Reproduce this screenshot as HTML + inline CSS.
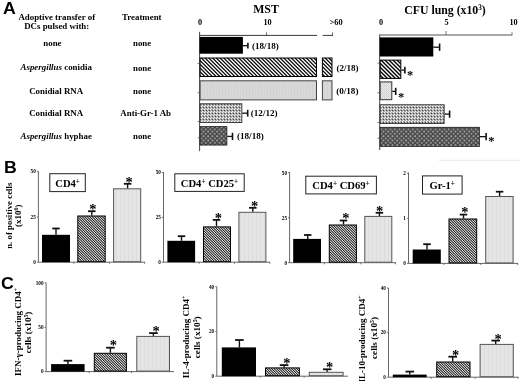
<!DOCTYPE html><html><head><meta charset="utf-8"><style>html,body{margin:0;padding:0;background:#fff;width:520px;height:381px;overflow:hidden}svg{display:block;filter:grayscale(1)}</style></head><body>
<svg width="520" height="381" viewBox="0 0 520 381" style="font-family:&quot;Liberation Serif&quot;,serif;font-weight:bold">
<defs>
<pattern id="hatch" width="15" height="15" patternUnits="userSpaceOnUse"><rect width="15" height="15" fill="rgb(255,255,255)"/><rect x="0" y="0" width="1" height="1" fill="rgb(112,112,112)"/><rect x="1" y="0" width="1" height="1" fill="rgb(12,12,12)"/><rect x="2" y="0" width="1" height="1" fill="rgb(195,195,195)"/><rect x="3" y="0" width="1" height="1" fill="rgb(243,243,243)"/><rect x="4" y="0" width="1" height="1" fill="rgb(60,60,60)"/><rect x="5" y="0" width="1" height="1" fill="rgb(40,40,40)"/><rect x="6" y="0" width="1" height="1" fill="rgb(231,231,231)"/><rect x="7" y="0" width="1" height="1" fill="rgb(215,215,215)"/><rect x="8" y="0" width="1" height="1" fill="rgb(24,24,24)"/><rect x="9" y="0" width="1" height="1" fill="rgb(84,84,84)"/><rect x="10" y="0" width="1" height="1" fill="rgb(251,251,251)"/><rect x="11" y="0" width="1" height="1" fill="rgb(171,171,171)"/><rect x="12" y="0" width="1" height="1" fill="rgb(4,4,4)"/><rect x="13" y="0" width="1" height="1" fill="rgb(143,143,143)"/><rect x="1" y="1" width="1" height="1" fill="rgb(112,112,112)"/><rect x="2" y="1" width="1" height="1" fill="rgb(12,12,12)"/><rect x="3" y="1" width="1" height="1" fill="rgb(195,195,195)"/><rect x="4" y="1" width="1" height="1" fill="rgb(243,243,243)"/><rect x="5" y="1" width="1" height="1" fill="rgb(60,60,60)"/><rect x="6" y="1" width="1" height="1" fill="rgb(40,40,40)"/><rect x="7" y="1" width="1" height="1" fill="rgb(231,231,231)"/><rect x="8" y="1" width="1" height="1" fill="rgb(215,215,215)"/><rect x="9" y="1" width="1" height="1" fill="rgb(24,24,24)"/><rect x="10" y="1" width="1" height="1" fill="rgb(84,84,84)"/><rect x="11" y="1" width="1" height="1" fill="rgb(251,251,251)"/><rect x="12" y="1" width="1" height="1" fill="rgb(171,171,171)"/><rect x="13" y="1" width="1" height="1" fill="rgb(4,4,4)"/><rect x="14" y="1" width="1" height="1" fill="rgb(143,143,143)"/><rect x="0" y="2" width="1" height="1" fill="rgb(143,143,143)"/><rect x="2" y="2" width="1" height="1" fill="rgb(112,112,112)"/><rect x="3" y="2" width="1" height="1" fill="rgb(12,12,12)"/><rect x="4" y="2" width="1" height="1" fill="rgb(195,195,195)"/><rect x="5" y="2" width="1" height="1" fill="rgb(243,243,243)"/><rect x="6" y="2" width="1" height="1" fill="rgb(60,60,60)"/><rect x="7" y="2" width="1" height="1" fill="rgb(40,40,40)"/><rect x="8" y="2" width="1" height="1" fill="rgb(231,231,231)"/><rect x="9" y="2" width="1" height="1" fill="rgb(215,215,215)"/><rect x="10" y="2" width="1" height="1" fill="rgb(24,24,24)"/><rect x="11" y="2" width="1" height="1" fill="rgb(84,84,84)"/><rect x="12" y="2" width="1" height="1" fill="rgb(251,251,251)"/><rect x="13" y="2" width="1" height="1" fill="rgb(171,171,171)"/><rect x="14" y="2" width="1" height="1" fill="rgb(4,4,4)"/><rect x="0" y="3" width="1" height="1" fill="rgb(4,4,4)"/><rect x="1" y="3" width="1" height="1" fill="rgb(143,143,143)"/><rect x="3" y="3" width="1" height="1" fill="rgb(112,112,112)"/><rect x="4" y="3" width="1" height="1" fill="rgb(12,12,12)"/><rect x="5" y="3" width="1" height="1" fill="rgb(195,195,195)"/><rect x="6" y="3" width="1" height="1" fill="rgb(243,243,243)"/><rect x="7" y="3" width="1" height="1" fill="rgb(60,60,60)"/><rect x="8" y="3" width="1" height="1" fill="rgb(40,40,40)"/><rect x="9" y="3" width="1" height="1" fill="rgb(231,231,231)"/><rect x="10" y="3" width="1" height="1" fill="rgb(215,215,215)"/><rect x="11" y="3" width="1" height="1" fill="rgb(24,24,24)"/><rect x="12" y="3" width="1" height="1" fill="rgb(84,84,84)"/><rect x="13" y="3" width="1" height="1" fill="rgb(251,251,251)"/><rect x="14" y="3" width="1" height="1" fill="rgb(171,171,171)"/><rect x="0" y="4" width="1" height="1" fill="rgb(171,171,171)"/><rect x="1" y="4" width="1" height="1" fill="rgb(4,4,4)"/><rect x="2" y="4" width="1" height="1" fill="rgb(143,143,143)"/><rect x="4" y="4" width="1" height="1" fill="rgb(112,112,112)"/><rect x="5" y="4" width="1" height="1" fill="rgb(12,12,12)"/><rect x="6" y="4" width="1" height="1" fill="rgb(195,195,195)"/><rect x="7" y="4" width="1" height="1" fill="rgb(243,243,243)"/><rect x="8" y="4" width="1" height="1" fill="rgb(60,60,60)"/><rect x="9" y="4" width="1" height="1" fill="rgb(40,40,40)"/><rect x="10" y="4" width="1" height="1" fill="rgb(231,231,231)"/><rect x="11" y="4" width="1" height="1" fill="rgb(215,215,215)"/><rect x="12" y="4" width="1" height="1" fill="rgb(24,24,24)"/><rect x="13" y="4" width="1" height="1" fill="rgb(84,84,84)"/><rect x="14" y="4" width="1" height="1" fill="rgb(251,251,251)"/><rect x="0" y="5" width="1" height="1" fill="rgb(251,251,251)"/><rect x="1" y="5" width="1" height="1" fill="rgb(171,171,171)"/><rect x="2" y="5" width="1" height="1" fill="rgb(4,4,4)"/><rect x="3" y="5" width="1" height="1" fill="rgb(143,143,143)"/><rect x="5" y="5" width="1" height="1" fill="rgb(112,112,112)"/><rect x="6" y="5" width="1" height="1" fill="rgb(12,12,12)"/><rect x="7" y="5" width="1" height="1" fill="rgb(195,195,195)"/><rect x="8" y="5" width="1" height="1" fill="rgb(243,243,243)"/><rect x="9" y="5" width="1" height="1" fill="rgb(60,60,60)"/><rect x="10" y="5" width="1" height="1" fill="rgb(40,40,40)"/><rect x="11" y="5" width="1" height="1" fill="rgb(231,231,231)"/><rect x="12" y="5" width="1" height="1" fill="rgb(215,215,215)"/><rect x="13" y="5" width="1" height="1" fill="rgb(24,24,24)"/><rect x="14" y="5" width="1" height="1" fill="rgb(84,84,84)"/><rect x="0" y="6" width="1" height="1" fill="rgb(84,84,84)"/><rect x="1" y="6" width="1" height="1" fill="rgb(251,251,251)"/><rect x="2" y="6" width="1" height="1" fill="rgb(171,171,171)"/><rect x="3" y="6" width="1" height="1" fill="rgb(4,4,4)"/><rect x="4" y="6" width="1" height="1" fill="rgb(143,143,143)"/><rect x="6" y="6" width="1" height="1" fill="rgb(112,112,112)"/><rect x="7" y="6" width="1" height="1" fill="rgb(12,12,12)"/><rect x="8" y="6" width="1" height="1" fill="rgb(195,195,195)"/><rect x="9" y="6" width="1" height="1" fill="rgb(243,243,243)"/><rect x="10" y="6" width="1" height="1" fill="rgb(60,60,60)"/><rect x="11" y="6" width="1" height="1" fill="rgb(40,40,40)"/><rect x="12" y="6" width="1" height="1" fill="rgb(231,231,231)"/><rect x="13" y="6" width="1" height="1" fill="rgb(215,215,215)"/><rect x="14" y="6" width="1" height="1" fill="rgb(24,24,24)"/><rect x="0" y="7" width="1" height="1" fill="rgb(24,24,24)"/><rect x="1" y="7" width="1" height="1" fill="rgb(84,84,84)"/><rect x="2" y="7" width="1" height="1" fill="rgb(251,251,251)"/><rect x="3" y="7" width="1" height="1" fill="rgb(171,171,171)"/><rect x="4" y="7" width="1" height="1" fill="rgb(4,4,4)"/><rect x="5" y="7" width="1" height="1" fill="rgb(143,143,143)"/><rect x="7" y="7" width="1" height="1" fill="rgb(112,112,112)"/><rect x="8" y="7" width="1" height="1" fill="rgb(12,12,12)"/><rect x="9" y="7" width="1" height="1" fill="rgb(195,195,195)"/><rect x="10" y="7" width="1" height="1" fill="rgb(243,243,243)"/><rect x="11" y="7" width="1" height="1" fill="rgb(60,60,60)"/><rect x="12" y="7" width="1" height="1" fill="rgb(40,40,40)"/><rect x="13" y="7" width="1" height="1" fill="rgb(231,231,231)"/><rect x="14" y="7" width="1" height="1" fill="rgb(215,215,215)"/><rect x="0" y="8" width="1" height="1" fill="rgb(215,215,215)"/><rect x="1" y="8" width="1" height="1" fill="rgb(24,24,24)"/><rect x="2" y="8" width="1" height="1" fill="rgb(84,84,84)"/><rect x="3" y="8" width="1" height="1" fill="rgb(251,251,251)"/><rect x="4" y="8" width="1" height="1" fill="rgb(171,171,171)"/><rect x="5" y="8" width="1" height="1" fill="rgb(4,4,4)"/><rect x="6" y="8" width="1" height="1" fill="rgb(143,143,143)"/><rect x="8" y="8" width="1" height="1" fill="rgb(112,112,112)"/><rect x="9" y="8" width="1" height="1" fill="rgb(12,12,12)"/><rect x="10" y="8" width="1" height="1" fill="rgb(195,195,195)"/><rect x="11" y="8" width="1" height="1" fill="rgb(243,243,243)"/><rect x="12" y="8" width="1" height="1" fill="rgb(60,60,60)"/><rect x="13" y="8" width="1" height="1" fill="rgb(40,40,40)"/><rect x="14" y="8" width="1" height="1" fill="rgb(231,231,231)"/><rect x="0" y="9" width="1" height="1" fill="rgb(231,231,231)"/><rect x="1" y="9" width="1" height="1" fill="rgb(215,215,215)"/><rect x="2" y="9" width="1" height="1" fill="rgb(24,24,24)"/><rect x="3" y="9" width="1" height="1" fill="rgb(84,84,84)"/><rect x="4" y="9" width="1" height="1" fill="rgb(251,251,251)"/><rect x="5" y="9" width="1" height="1" fill="rgb(171,171,171)"/><rect x="6" y="9" width="1" height="1" fill="rgb(4,4,4)"/><rect x="7" y="9" width="1" height="1" fill="rgb(143,143,143)"/><rect x="9" y="9" width="1" height="1" fill="rgb(112,112,112)"/><rect x="10" y="9" width="1" height="1" fill="rgb(12,12,12)"/><rect x="11" y="9" width="1" height="1" fill="rgb(195,195,195)"/><rect x="12" y="9" width="1" height="1" fill="rgb(243,243,243)"/><rect x="13" y="9" width="1" height="1" fill="rgb(60,60,60)"/><rect x="14" y="9" width="1" height="1" fill="rgb(40,40,40)"/><rect x="0" y="10" width="1" height="1" fill="rgb(40,40,40)"/><rect x="1" y="10" width="1" height="1" fill="rgb(231,231,231)"/><rect x="2" y="10" width="1" height="1" fill="rgb(215,215,215)"/><rect x="3" y="10" width="1" height="1" fill="rgb(24,24,24)"/><rect x="4" y="10" width="1" height="1" fill="rgb(84,84,84)"/><rect x="5" y="10" width="1" height="1" fill="rgb(251,251,251)"/><rect x="6" y="10" width="1" height="1" fill="rgb(171,171,171)"/><rect x="7" y="10" width="1" height="1" fill="rgb(4,4,4)"/><rect x="8" y="10" width="1" height="1" fill="rgb(143,143,143)"/><rect x="10" y="10" width="1" height="1" fill="rgb(112,112,112)"/><rect x="11" y="10" width="1" height="1" fill="rgb(12,12,12)"/><rect x="12" y="10" width="1" height="1" fill="rgb(195,195,195)"/><rect x="13" y="10" width="1" height="1" fill="rgb(243,243,243)"/><rect x="14" y="10" width="1" height="1" fill="rgb(60,60,60)"/><rect x="0" y="11" width="1" height="1" fill="rgb(60,60,60)"/><rect x="1" y="11" width="1" height="1" fill="rgb(40,40,40)"/><rect x="2" y="11" width="1" height="1" fill="rgb(231,231,231)"/><rect x="3" y="11" width="1" height="1" fill="rgb(215,215,215)"/><rect x="4" y="11" width="1" height="1" fill="rgb(24,24,24)"/><rect x="5" y="11" width="1" height="1" fill="rgb(84,84,84)"/><rect x="6" y="11" width="1" height="1" fill="rgb(251,251,251)"/><rect x="7" y="11" width="1" height="1" fill="rgb(171,171,171)"/><rect x="8" y="11" width="1" height="1" fill="rgb(4,4,4)"/><rect x="9" y="11" width="1" height="1" fill="rgb(143,143,143)"/><rect x="11" y="11" width="1" height="1" fill="rgb(112,112,112)"/><rect x="12" y="11" width="1" height="1" fill="rgb(12,12,12)"/><rect x="13" y="11" width="1" height="1" fill="rgb(195,195,195)"/><rect x="14" y="11" width="1" height="1" fill="rgb(243,243,243)"/><rect x="0" y="12" width="1" height="1" fill="rgb(243,243,243)"/><rect x="1" y="12" width="1" height="1" fill="rgb(60,60,60)"/><rect x="2" y="12" width="1" height="1" fill="rgb(40,40,40)"/><rect x="3" y="12" width="1" height="1" fill="rgb(231,231,231)"/><rect x="4" y="12" width="1" height="1" fill="rgb(215,215,215)"/><rect x="5" y="12" width="1" height="1" fill="rgb(24,24,24)"/><rect x="6" y="12" width="1" height="1" fill="rgb(84,84,84)"/><rect x="7" y="12" width="1" height="1" fill="rgb(251,251,251)"/><rect x="8" y="12" width="1" height="1" fill="rgb(171,171,171)"/><rect x="9" y="12" width="1" height="1" fill="rgb(4,4,4)"/><rect x="10" y="12" width="1" height="1" fill="rgb(143,143,143)"/><rect x="12" y="12" width="1" height="1" fill="rgb(112,112,112)"/><rect x="13" y="12" width="1" height="1" fill="rgb(12,12,12)"/><rect x="14" y="12" width="1" height="1" fill="rgb(195,195,195)"/><rect x="0" y="13" width="1" height="1" fill="rgb(195,195,195)"/><rect x="1" y="13" width="1" height="1" fill="rgb(243,243,243)"/><rect x="2" y="13" width="1" height="1" fill="rgb(60,60,60)"/><rect x="3" y="13" width="1" height="1" fill="rgb(40,40,40)"/><rect x="4" y="13" width="1" height="1" fill="rgb(231,231,231)"/><rect x="5" y="13" width="1" height="1" fill="rgb(215,215,215)"/><rect x="6" y="13" width="1" height="1" fill="rgb(24,24,24)"/><rect x="7" y="13" width="1" height="1" fill="rgb(84,84,84)"/><rect x="8" y="13" width="1" height="1" fill="rgb(251,251,251)"/><rect x="9" y="13" width="1" height="1" fill="rgb(171,171,171)"/><rect x="10" y="13" width="1" height="1" fill="rgb(4,4,4)"/><rect x="11" y="13" width="1" height="1" fill="rgb(143,143,143)"/><rect x="13" y="13" width="1" height="1" fill="rgb(112,112,112)"/><rect x="14" y="13" width="1" height="1" fill="rgb(12,12,12)"/><rect x="0" y="14" width="1" height="1" fill="rgb(12,12,12)"/><rect x="1" y="14" width="1" height="1" fill="rgb(195,195,195)"/><rect x="2" y="14" width="1" height="1" fill="rgb(243,243,243)"/><rect x="3" y="14" width="1" height="1" fill="rgb(60,60,60)"/><rect x="4" y="14" width="1" height="1" fill="rgb(40,40,40)"/><rect x="5" y="14" width="1" height="1" fill="rgb(231,231,231)"/><rect x="6" y="14" width="1" height="1" fill="rgb(215,215,215)"/><rect x="7" y="14" width="1" height="1" fill="rgb(24,24,24)"/><rect x="8" y="14" width="1" height="1" fill="rgb(84,84,84)"/><rect x="9" y="14" width="1" height="1" fill="rgb(251,251,251)"/><rect x="10" y="14" width="1" height="1" fill="rgb(171,171,171)"/><rect x="11" y="14" width="1" height="1" fill="rgb(4,4,4)"/><rect x="12" y="14" width="1" height="1" fill="rgb(143,143,143)"/><rect x="14" y="14" width="1" height="1" fill="rgb(112,112,112)"/></pattern><pattern id="hatchc" width="4" height="4" patternUnits="userSpaceOnUse"><rect width="4" height="4" fill="rgb(255,255,255)"/><rect x="0" y="0" width="1" height="1" fill="rgb(112,112,112)"/><rect x="1" y="0" width="1" height="1" fill="rgb(0,0,0)"/><rect x="2" y="0" width="1" height="1" fill="rgb(143,143,143)"/><rect x="1" y="1" width="1" height="1" fill="rgb(112,112,112)"/><rect x="2" y="1" width="1" height="1" fill="rgb(0,0,0)"/><rect x="3" y="1" width="1" height="1" fill="rgb(143,143,143)"/><rect x="0" y="2" width="1" height="1" fill="rgb(143,143,143)"/><rect x="2" y="2" width="1" height="1" fill="rgb(112,112,112)"/><rect x="3" y="2" width="1" height="1" fill="rgb(0,0,0)"/><rect x="0" y="3" width="1" height="1" fill="rgb(0,0,0)"/><rect x="1" y="3" width="1" height="1" fill="rgb(143,143,143)"/><rect x="3" y="3" width="1" height="1" fill="rgb(112,112,112)"/></pattern><pattern id="hatchb" width="5" height="5" patternUnits="userSpaceOnUse"><rect width="5" height="5" fill="rgb(255,255,255)"/><rect x="0" y="0" width="1" height="1" fill="rgb(112,112,112)"/><rect x="1" y="0" width="1" height="1" fill="rgb(84,84,84)"/><rect x="2" y="0" width="1" height="1" fill="rgb(211,211,211)"/><rect x="3" y="0" width="1" height="1" fill="rgb(36,36,36)"/><rect x="4" y="0" width="1" height="1" fill="rgb(195,195,195)"/><rect x="0" y="1" width="1" height="1" fill="rgb(195,195,195)"/><rect x="1" y="1" width="1" height="1" fill="rgb(112,112,112)"/><rect x="2" y="1" width="1" height="1" fill="rgb(84,84,84)"/><rect x="3" y="1" width="1" height="1" fill="rgb(211,211,211)"/><rect x="4" y="1" width="1" height="1" fill="rgb(36,36,36)"/><rect x="0" y="2" width="1" height="1" fill="rgb(36,36,36)"/><rect x="1" y="2" width="1" height="1" fill="rgb(195,195,195)"/><rect x="2" y="2" width="1" height="1" fill="rgb(112,112,112)"/><rect x="3" y="2" width="1" height="1" fill="rgb(84,84,84)"/><rect x="4" y="2" width="1" height="1" fill="rgb(211,211,211)"/><rect x="0" y="3" width="1" height="1" fill="rgb(211,211,211)"/><rect x="1" y="3" width="1" height="1" fill="rgb(36,36,36)"/><rect x="2" y="3" width="1" height="1" fill="rgb(195,195,195)"/><rect x="3" y="3" width="1" height="1" fill="rgb(112,112,112)"/><rect x="4" y="3" width="1" height="1" fill="rgb(84,84,84)"/><rect x="0" y="4" width="1" height="1" fill="rgb(84,84,84)"/><rect x="1" y="4" width="1" height="1" fill="rgb(211,211,211)"/><rect x="2" y="4" width="1" height="1" fill="rgb(36,36,36)"/><rect x="3" y="4" width="1" height="1" fill="rgb(195,195,195)"/><rect x="4" y="4" width="1" height="1" fill="rgb(112,112,112)"/></pattern>
<pattern id="lightb" width="4" height="4" patternUnits="userSpaceOnUse">
<rect width="4" height="4" fill="#e5e5e5"/><rect width="1" height="4" fill="#dcdcdc"/></pattern>
<pattern id="light" width="3" height="3" patternUnits="userSpaceOnUse">
<rect width="3" height="3" fill="#d8d8d8"/><rect width="1" height="3" fill="#d3d3d3"/></pattern>
<pattern id="lightc" width="2" height="2" patternUnits="userSpaceOnUse">
<rect width="2" height="2" fill="#ececec"/><rect width="1" height="1" fill="#cdcdcd"/><rect x="1" y="1" width="1" height="1" fill="#d4d4d4"/></pattern>
<pattern id="dot" width="3" height="3" patternUnits="userSpaceOnUse">
<rect width="3" height="3" fill="#aaaaaa"/><rect x="1" y="0" width="1" height="1" fill="#f0f0f0"/><rect x="0" y="1" width="1" height="1" fill="#fafafa"/><rect x="2" y="2" width="1" height="1" fill="#454545"/></pattern>
<pattern id="dark" width="4.5" height="4.5" patternUnits="userSpaceOnUse">
<rect width="4.5" height="4.5" fill="#4a4a4a"/><circle cx="1.1" cy="1.1" r="0.85" fill="#c4c4c4"/><circle cx="3.35" cy="3.35" r="0.85" fill="#b0b0b0"/></pattern>
</defs>
<rect width="520" height="381" fill="#fff"/>
<g style="font-family:&quot;Liberation Sans&quot;,sans-serif;font-weight:bold">
<text transform="translate(2.9,13.6) scale(1.07,1)" font-size="16.6">A</text>
<text transform="translate(3.9,173.3) scale(1.03,1)" font-size="17.2">B</text>
<text transform="translate(1.1,288.8) scale(1.02,1)" font-size="17.4">C</text>
</g>
<text x="56.75" y="19.6" font-size="8.9" text-anchor="middle" >Adoptive transfer of</text>
<text x="56.7" y="29.4" font-size="8.9" text-anchor="middle" >DCs pulsed with:</text>
<text x="141.8" y="19.6" font-size="8.9" text-anchor="middle" >Treatment</text>
<text x="52.4" y="45.9" font-size="8.9" text-anchor="middle" >none</text>
<text x="142.1" y="45.9" font-size="8.9" text-anchor="middle" >none</text>
<text x="56.2" y="69.6" font-size="8.9" text-anchor="middle" ><tspan font-style="italic">Aspergillus</tspan> conidia</text>
<text x="142.1" y="71.3" font-size="8.9" text-anchor="middle" >none</text>
<text x="56.2" y="93.5" font-size="8.9" text-anchor="middle" >Conidial RNA</text>
<text x="142.1" y="93.8" font-size="8.9" text-anchor="middle" >none</text>
<text x="56.2" y="116.3" font-size="8.9" text-anchor="middle" >Conidial RNA</text>
<text x="145.7" y="116.3" font-size="8.9" text-anchor="middle" >Anti-Gr-1 Ab</text>
<text x="56.2" y="139.4" font-size="8.9" text-anchor="middle" ><tspan font-style="italic">Aspergillus</tspan> hyphae</text>
<text x="142.1" y="139.4" font-size="8.9" text-anchor="middle" >none</text>
<text x="266" y="13.4" font-size="11.8" text-anchor="middle" >MST</text>
<text x="200" y="24.6" font-size="8.2" text-anchor="middle" >0</text>
<text x="267.5" y="24.6" font-size="8.2" text-anchor="middle" >10</text>
<text x="336" y="24.6" font-size="8.4" text-anchor="middle" >&gt;60</text>
<line x1="199.6" y1="35.4" x2="317" y2="35.4" stroke="#3a3a3a" stroke-width="1.0"/>
<line x1="322.7" y1="35.4" x2="333" y2="35.4" stroke="#3a3a3a" stroke-width="1.0"/>
<line x1="266.5" y1="32.4" x2="266.5" y2="35.4" stroke="#444" stroke-width="0.8"/>
<line x1="332.5" y1="32.4" x2="332.5" y2="35.4" stroke="#444" stroke-width="0.8"/>
<line x1="199.6" y1="31.8" x2="199.6" y2="151.2" stroke="#444" stroke-width="1"/>
<rect x="199.60" y="36.90" width="43.30" height="16.80" fill="#000" stroke="none" stroke-width="0"/>
<line x1="242.9" y1="45.650000000000006" x2="247.9" y2="45.650000000000006" stroke="#111" stroke-width="1.3"/>
<line x1="247.9" y1="42.7" x2="247.9" y2="48.6" stroke="#111" stroke-width="1.6"/>
<text x="252" y="48.6" font-size="9.1" text-anchor="start" >(18/18)</text>
<rect x="200.10" y="58.00" width="116.40" height="18.50" fill="url(#hatch)" stroke="#000" stroke-width="1"/>
<rect x="322.40" y="58.00" width="9.60" height="18.50" fill="url(#hatch)" stroke="#000" stroke-width="1"/>
<text x="336.4" y="70.6" font-size="9.1" text-anchor="start" >(2/18)</text>
<rect x="200.10" y="80.80" width="116.40" height="19.10" fill="url(#light)" stroke="#444" stroke-width="1.0"/>
<rect x="322.40" y="80.80" width="9.60" height="19.10" fill="url(#light)" stroke="#444" stroke-width="1.0"/>
<text x="336.2" y="93.8" font-size="9.1" text-anchor="start" >(0/18)</text>
<rect x="200.05" y="103.75" width="41.80" height="18.80" fill="url(#dot)" stroke="#333" stroke-width="0.9"/>
<line x1="242.3" y1="113.19999999999999" x2="247.7" y2="113.19999999999999" stroke="#111" stroke-width="1.3"/>
<line x1="247.7" y1="109.8" x2="247.7" y2="116.6" stroke="#111" stroke-width="1.6"/>
<text x="250.8" y="116.4" font-size="9.1" text-anchor="start" >(12/12)</text>
<rect x="200.05" y="126.65" width="26.80" height="18.40" fill="url(#dark)" stroke="#222" stroke-width="0.9"/>
<line x1="227.3" y1="136.4" x2="232.5" y2="136.4" stroke="#111" stroke-width="1.3"/>
<line x1="232.5" y1="132.8" x2="232.5" y2="140.0" stroke="#111" stroke-width="1.6"/>
<text x="237" y="139.4" font-size="9.1" text-anchor="start" >(18/18)</text>
<line x1="197.6" y1="63.5" x2="199.6" y2="63.5" stroke="#555" stroke-width="0.8"/>
<line x1="197.6" y1="92.7" x2="199.6" y2="92.7" stroke="#555" stroke-width="0.8"/>
<line x1="197.6" y1="121.6" x2="199.6" y2="121.6" stroke="#555" stroke-width="0.8"/>
<line x1="197.6" y1="137.8" x2="199.6" y2="137.8" stroke="#555" stroke-width="0.8"/>
<line x1="377.4" y1="63.1" x2="379.7" y2="63.1" stroke="#555" stroke-width="0.8"/>
<line x1="377.4" y1="92.7" x2="379.7" y2="92.7" stroke="#555" stroke-width="0.8"/>
<line x1="377.4" y1="122.4" x2="379.7" y2="122.4" stroke="#555" stroke-width="0.8"/>
<line x1="377.4" y1="138.2" x2="379.7" y2="138.2" stroke="#555" stroke-width="0.8"/>
<text x="404.2" y="13.9" font-size="11.8">CFU lung (x10<tspan font-size="7.2" baseline-shift="4.3">3</tspan>)</text>
<text x="381" y="24.6" font-size="8.2" text-anchor="middle" >0</text>
<text x="446.5" y="24.6" font-size="8.2" text-anchor="middle" >5</text>
<text x="513.6" y="24.6" font-size="8.2" text-anchor="middle" >10</text>
<line x1="379.6" y1="35.0" x2="512.3" y2="35.0" stroke="#555" stroke-width="1.1"/>
<line x1="446" y1="31" x2="446" y2="35.0" stroke="#555" stroke-width="0.8"/>
<line x1="512" y1="32.2" x2="512" y2="35.0" stroke="#555" stroke-width="0.8"/>
<line x1="379.7" y1="34.5" x2="379.7" y2="150" stroke="#444" stroke-width="1"/>
<rect x="379.70" y="37.40" width="53.60" height="19.10" fill="#000" stroke="none" stroke-width="0"/>
<line x1="433.3" y1="47.2" x2="439.6" y2="47.2" stroke="#111" stroke-width="1.3"/>
<line x1="439.6" y1="43.5" x2="439.6" y2="50.9" stroke="#111" stroke-width="1.6"/>
<rect x="380.20" y="60.10" width="20.60" height="18.30" fill="url(#hatchc)" stroke="#000" stroke-width="1"/>
<line x1="401.3" y1="70.1" x2="404.9" y2="70.1" stroke="#111" stroke-width="1.3"/>
<line x1="404.9" y1="66.8" x2="404.9" y2="73.4" stroke="#111" stroke-width="1.6"/>
<text x="410.2" y="78.91" font-size="12.5" text-anchor="middle">*</text>
<rect x="380.20" y="81.90" width="11.60" height="17.80" fill="url(#lightc)" stroke="#333" stroke-width="1.0"/>
<line x1="392.3" y1="91.4" x2="395.7" y2="91.4" stroke="#111" stroke-width="1.3"/>
<line x1="395.7" y1="87.8" x2="395.7" y2="95.0" stroke="#111" stroke-width="1.6"/>
<text x="401.1" y="100.81" font-size="12.5" text-anchor="middle">*</text>
<rect x="380.15" y="104.75" width="64.00" height="18.80" fill="url(#dot)" stroke="#333" stroke-width="0.9"/>
<line x1="444.6" y1="114.1" x2="449.6" y2="114.1" stroke="#111" stroke-width="1.3"/>
<line x1="449.6" y1="110.5" x2="449.6" y2="117.7" stroke="#111" stroke-width="1.6"/>
<rect x="380.15" y="127.35" width="99.20" height="19.00" fill="url(#dark)" stroke="#222" stroke-width="0.9"/>
<line x1="479.8" y1="136.65" x2="486.1" y2="136.65" stroke="#111" stroke-width="1.3"/>
<line x1="486.1" y1="133.0" x2="486.1" y2="140.3" stroke="#111" stroke-width="1.6"/>
<text x="491.3" y="145.21" font-size="12.5" text-anchor="middle">*</text>
<line x1="439" y1="160.3" x2="520" y2="160.3" stroke="#e8e8e8" stroke-width="1"/>
<line x1="38.4" y1="171.3" x2="38.4" y2="262.2" stroke="#555" stroke-width="0.9"/>
<line x1="38.4" y1="262.2" x2="145" y2="262.2" stroke="#555" stroke-width="0.9"/>
<line x1="36.8" y1="171.6" x2="38.4" y2="171.6" stroke="#555" stroke-width="0.8"/>
<text x="35.8" y="173.4" font-size="5.2" text-anchor="end" >50</text>
<line x1="36.8" y1="216.9" x2="38.4" y2="216.9" stroke="#555" stroke-width="0.8"/>
<text x="35.8" y="218.70000000000002" font-size="5.2" text-anchor="end" >25</text>
<line x1="36.8" y1="262.2" x2="38.4" y2="262.2" stroke="#555" stroke-width="0.8"/>
<text x="35.8" y="264.0" font-size="5.2" text-anchor="end" >0</text>
<line x1="73.8" y1="262.2" x2="73.8" y2="263.8" stroke="#555" stroke-width="0.8"/>
<line x1="109.6" y1="262.2" x2="109.6" y2="263.8" stroke="#555" stroke-width="0.8"/>
<line x1="144.7" y1="262.2" x2="144.7" y2="263.8" stroke="#555" stroke-width="0.8"/>
<rect x="42.00" y="234.80" width="28.00" height="27.40" fill="#000" stroke="none" stroke-width="0"/>
<line x1="56" y1="234.8" x2="56" y2="228.5" stroke="#111" stroke-width="1.4"/>
<line x1="52.25" y1="228.5" x2="59.75" y2="228.5" stroke="#111" stroke-width="1.8"/>
<rect x="77.80" y="216.00" width="27.40" height="45.70" fill="url(#hatchb)" stroke="#000" stroke-width="1"/>
<line x1="91.8" y1="215.5" x2="91.8" y2="211.2" stroke="#111" stroke-width="1.4"/>
<line x1="88.05" y1="211.2" x2="95.55" y2="211.2" stroke="#111" stroke-width="1.8"/>
<text x="92.9" y="214.04" font-size="14.5" text-anchor="middle">*</text>
<rect x="113.60" y="188.80" width="27.10" height="72.90" fill="url(#lightb)" stroke="#555" stroke-width="1.0"/>
<line x1="127.6" y1="188.3" x2="127.6" y2="183.8" stroke="#111" stroke-width="1.4"/>
<line x1="123.85" y1="183.8" x2="131.35" y2="183.8" stroke="#111" stroke-width="1.8"/>
<text x="129" y="186.54" font-size="14.5" text-anchor="middle">*</text>
<rect x="49.80" y="173.70" width="35.50" height="17.90" fill="#fff" stroke="#222" stroke-width="1.0"/>
<text x="67.6" y="186.6" font-size="10.6" text-anchor="middle">CD4<tspan font-size="7.2" baseline-shift="3.0">+</tspan></text>
<line x1="163.5" y1="172" x2="163.5" y2="262.2" stroke="#555" stroke-width="0.9"/>
<line x1="163.5" y1="262.2" x2="270" y2="262.2" stroke="#555" stroke-width="0.9"/>
<line x1="161.9" y1="172.5" x2="163.5" y2="172.5" stroke="#555" stroke-width="0.8"/>
<text x="160.9" y="174.3" font-size="5.2" text-anchor="end" >50</text>
<line x1="161.9" y1="217.4" x2="163.5" y2="217.4" stroke="#555" stroke-width="0.8"/>
<text x="160.9" y="219.20000000000002" font-size="5.2" text-anchor="end" >25</text>
<line x1="161.9" y1="262.2" x2="163.5" y2="262.2" stroke="#555" stroke-width="0.8"/>
<text x="160.9" y="264.0" font-size="5.2" text-anchor="end" >0</text>
<line x1="199.2" y1="262.2" x2="199.2" y2="263.8" stroke="#555" stroke-width="0.8"/>
<line x1="234.5" y1="262.2" x2="234.5" y2="263.8" stroke="#555" stroke-width="0.8"/>
<line x1="269.8" y1="262.2" x2="269.8" y2="263.8" stroke="#555" stroke-width="0.8"/>
<rect x="167.40" y="240.80" width="27.70" height="21.40" fill="#000" stroke="none" stroke-width="0"/>
<line x1="181.5" y1="240.8" x2="181.5" y2="236.2" stroke="#111" stroke-width="1.4"/>
<line x1="177.75" y1="236.2" x2="185.25" y2="236.2" stroke="#111" stroke-width="1.8"/>
<rect x="203.50" y="226.90" width="27.00" height="34.80" fill="url(#hatchb)" stroke="#000" stroke-width="1"/>
<line x1="216.5" y1="226.4" x2="216.5" y2="219.9" stroke="#111" stroke-width="1.4"/>
<line x1="212.75" y1="219.9" x2="220.25" y2="219.9" stroke="#111" stroke-width="1.8"/>
<text x="218.4" y="222.84" font-size="14.5" text-anchor="middle">*</text>
<rect x="238.90" y="212.30" width="27.00" height="49.40" fill="url(#lightb)" stroke="#555" stroke-width="1.0"/>
<line x1="252.8" y1="211.8" x2="252.8" y2="207.8" stroke="#111" stroke-width="1.4"/>
<line x1="249.05" y1="207.8" x2="256.55" y2="207.8" stroke="#111" stroke-width="1.8"/>
<text x="254.5" y="210.54" font-size="14.5" text-anchor="middle">*</text>
<rect x="174.80" y="173.80" width="69.40" height="17.60" fill="#fff" stroke="#222" stroke-width="1.0"/>
<text x="209.5" y="187.0" font-size="10.6" text-anchor="middle">CD4<tspan font-size="7.2" baseline-shift="3.0">+</tspan> CD25<tspan font-size="7.2" baseline-shift="3.0">+</tspan></text>
<line x1="289.6" y1="172" x2="289.6" y2="262.7" stroke="#555" stroke-width="0.9"/>
<line x1="289.6" y1="262.7" x2="396" y2="262.7" stroke="#555" stroke-width="0.9"/>
<line x1="288.0" y1="172.7" x2="289.6" y2="172.7" stroke="#555" stroke-width="0.8"/>
<text x="287.0" y="174.5" font-size="5.2" text-anchor="end" >50</text>
<line x1="288.0" y1="217.7" x2="289.6" y2="217.7" stroke="#555" stroke-width="0.8"/>
<text x="287.0" y="219.5" font-size="5.2" text-anchor="end" >25</text>
<line x1="288.0" y1="262.7" x2="289.6" y2="262.7" stroke="#555" stroke-width="0.8"/>
<text x="287.0" y="264.5" font-size="5.2" text-anchor="end" >0</text>
<line x1="324.3" y1="262.7" x2="324.3" y2="264.3" stroke="#555" stroke-width="0.8"/>
<line x1="360.8" y1="262.7" x2="360.8" y2="264.3" stroke="#555" stroke-width="0.8"/>
<line x1="395.4" y1="262.7" x2="395.4" y2="264.3" stroke="#555" stroke-width="0.8"/>
<rect x="293.20" y="238.90" width="27.80" height="23.80" fill="#000" stroke="none" stroke-width="0"/>
<line x1="307.7" y1="238.9" x2="307.7" y2="235" stroke="#111" stroke-width="1.4"/>
<line x1="303.95" y1="235" x2="311.45" y2="235" stroke="#111" stroke-width="1.8"/>
<rect x="329.30" y="225.00" width="27.10" height="37.20" fill="url(#hatchb)" stroke="#000" stroke-width="1"/>
<line x1="343.5" y1="224.5" x2="343.5" y2="220.5" stroke="#111" stroke-width="1.4"/>
<line x1="339.75" y1="220.5" x2="347.25" y2="220.5" stroke="#111" stroke-width="1.8"/>
<text x="345.9" y="223.24" font-size="14.5" text-anchor="middle">*</text>
<rect x="364.80" y="216.40" width="27.00" height="45.80" fill="url(#lightb)" stroke="#555" stroke-width="1.0"/>
<line x1="379.4" y1="215.9" x2="379.4" y2="212.8" stroke="#111" stroke-width="1.4"/>
<line x1="375.65" y1="212.8" x2="383.15" y2="212.8" stroke="#111" stroke-width="1.8"/>
<text x="379.5" y="216.44" font-size="14.5" text-anchor="middle">*</text>
<rect x="305.80" y="176.20" width="70.60" height="17.70" fill="#fff" stroke="#222" stroke-width="1.0"/>
<text x="341.0" y="188.9" font-size="10.6" text-anchor="middle">CD4<tspan font-size="7.2" baseline-shift="3.0">+</tspan> CD69<tspan font-size="7.2" baseline-shift="3.0">+</tspan></text>
<line x1="408.5" y1="172.5" x2="408.5" y2="263.4" stroke="#555" stroke-width="0.9"/>
<line x1="408.5" y1="263.4" x2="518" y2="263.4" stroke="#555" stroke-width="0.9"/>
<line x1="406.9" y1="173.4" x2="408.5" y2="173.4" stroke="#555" stroke-width="0.8"/>
<text x="405.9" y="175.20000000000002" font-size="5.2" text-anchor="end" >2</text>
<line x1="406.9" y1="218.4" x2="408.5" y2="218.4" stroke="#555" stroke-width="0.8"/>
<text x="405.9" y="220.20000000000002" font-size="5.2" text-anchor="end" >1</text>
<line x1="406.9" y1="263.4" x2="408.5" y2="263.4" stroke="#555" stroke-width="0.8"/>
<text x="405.9" y="265.2" font-size="5.2" text-anchor="end" >0</text>
<line x1="443.8" y1="263.4" x2="443.8" y2="265.0" stroke="#555" stroke-width="0.8"/>
<line x1="480.8" y1="263.4" x2="480.8" y2="265.0" stroke="#555" stroke-width="0.8"/>
<line x1="517.7" y1="263.4" x2="517.7" y2="265.0" stroke="#555" stroke-width="0.8"/>
<rect x="412.70" y="249.50" width="28.10" height="13.90" fill="#000" stroke="none" stroke-width="0"/>
<line x1="427" y1="249.5" x2="427" y2="244.2" stroke="#111" stroke-width="1.4"/>
<line x1="423.25" y1="244.2" x2="430.75" y2="244.2" stroke="#111" stroke-width="1.8"/>
<rect x="449.00" y="219.00" width="27.70" height="43.90" fill="url(#hatchb)" stroke="#000" stroke-width="1"/>
<line x1="463.5" y1="218.5" x2="463.5" y2="214.6" stroke="#111" stroke-width="1.4"/>
<line x1="459.75" y1="214.6" x2="467.25" y2="214.6" stroke="#111" stroke-width="1.8"/>
<text x="464.9" y="217.44" font-size="14.5" text-anchor="middle">*</text>
<rect x="485.70" y="196.50" width="27.40" height="66.40" fill="url(#lightb)" stroke="#555" stroke-width="1.0"/>
<line x1="499.6" y1="196" x2="499.6" y2="191.7" stroke="#111" stroke-width="1.4"/>
<line x1="495.85" y1="191.7" x2="503.35" y2="191.7" stroke="#111" stroke-width="1.8"/>
<rect x="422.50" y="175.90" width="39.60" height="18.20" fill="#fff" stroke="#222" stroke-width="1.0"/>
<text x="442.2" y="188.9" font-size="10.6" text-anchor="middle">Gr-1<tspan font-size="7.2" baseline-shift="3.0">+</tspan></text>
<text transform="translate(12.4,215.7) rotate(-90)" font-size="8.85" text-anchor="middle">n. of positive cells</text>
<text transform="translate(21.4,215.8) rotate(-90)" font-size="9.0" text-anchor="middle">(x10<tspan font-size="5.8" baseline-shift="3.2">6</tspan>)</text>
<line x1="46.1" y1="282.8" x2="46.1" y2="371.6" stroke="#555" stroke-width="0.9"/>
<line x1="46.1" y1="371.6" x2="174" y2="371.6" stroke="#555" stroke-width="0.9"/>
<line x1="44.5" y1="282.8" x2="46.1" y2="282.8" stroke="#555" stroke-width="0.8"/>
<text x="43.5" y="284.6" font-size="5.2" text-anchor="end" >100</text>
<line x1="44.5" y1="327.3" x2="46.1" y2="327.3" stroke="#555" stroke-width="0.8"/>
<text x="43.5" y="329.1" font-size="5.2" text-anchor="end" >50</text>
<line x1="44.5" y1="371.6" x2="46.1" y2="371.6" stroke="#555" stroke-width="0.8"/>
<text x="43.5" y="373.40000000000003" font-size="5.2" text-anchor="end" >0</text>
<line x1="89.3" y1="371.6" x2="89.3" y2="373.20000000000005" stroke="#555" stroke-width="0.8"/>
<line x1="131.4" y1="371.6" x2="131.4" y2="373.20000000000005" stroke="#555" stroke-width="0.8"/>
<rect x="51.10" y="364.10" width="33.50" height="7.50" fill="#000" stroke="none" stroke-width="0"/>
<line x1="67.9" y1="364.1" x2="67.9" y2="360.7" stroke="#111" stroke-width="1.4"/>
<line x1="63.60000000000001" y1="360.7" x2="72.2" y2="360.7" stroke="#111" stroke-width="1.8"/>
<rect x="94.30" y="353.30" width="32.10" height="17.80" fill="url(#hatchb)" stroke="#000" stroke-width="1"/>
<line x1="110.4" y1="352.8" x2="110.4" y2="347.7" stroke="#111" stroke-width="1.4"/>
<line x1="106.10000000000001" y1="347.7" x2="114.7" y2="347.7" stroke="#111" stroke-width="1.8"/>
<text x="113.3" y="350.24" font-size="14.5" text-anchor="middle">*</text>
<rect x="136.80" y="336.40" width="32.70" height="34.70" fill="url(#lightb)" stroke="#555" stroke-width="1.0"/>
<line x1="153.4" y1="335.9" x2="153.4" y2="333.1" stroke="#111" stroke-width="1.4"/>
<line x1="149.1" y1="333.1" x2="157.70000000000002" y2="333.1" stroke="#111" stroke-width="1.8"/>
<text x="156" y="335.74" font-size="14.5" text-anchor="middle">*</text>
<line x1="216.8" y1="286.7" x2="216.8" y2="376.2" stroke="#555" stroke-width="0.9"/>
<line x1="216.8" y1="376.2" x2="348" y2="376.2" stroke="#555" stroke-width="0.9"/>
<line x1="215.20000000000002" y1="286.7" x2="216.8" y2="286.7" stroke="#555" stroke-width="0.8"/>
<text x="214.20000000000002" y="288.5" font-size="5.2" text-anchor="end" >40</text>
<line x1="215.20000000000002" y1="331.4" x2="216.8" y2="331.4" stroke="#555" stroke-width="0.8"/>
<text x="214.20000000000002" y="333.2" font-size="5.2" text-anchor="end" >20</text>
<line x1="215.20000000000002" y1="376.2" x2="216.8" y2="376.2" stroke="#555" stroke-width="0.8"/>
<text x="214.20000000000002" y="378.0" font-size="5.2" text-anchor="end" >0</text>
<line x1="260.3" y1="376.2" x2="260.3" y2="377.8" stroke="#555" stroke-width="0.8"/>
<line x1="304.1" y1="376.2" x2="304.1" y2="377.8" stroke="#555" stroke-width="0.8"/>
<rect x="221.80" y="347.40" width="34.20" height="28.80" fill="#000" stroke="none" stroke-width="0"/>
<line x1="239.4" y1="347.4" x2="239.4" y2="340" stroke="#111" stroke-width="1.4"/>
<line x1="235.1" y1="340" x2="243.70000000000002" y2="340" stroke="#111" stroke-width="1.8"/>
<rect x="265.50" y="367.90" width="33.90" height="7.80" fill="url(#hatchb)" stroke="#000" stroke-width="1"/>
<line x1="284.1" y1="367.4" x2="284.1" y2="365.1" stroke="#111" stroke-width="1.4"/>
<line x1="279.8" y1="365.1" x2="288.40000000000003" y2="365.1" stroke="#111" stroke-width="1.8"/>
<text x="286.9" y="367.64" font-size="14.5" text-anchor="middle">*</text>
<rect x="309.30" y="372.30" width="33.80" height="3.40" fill="url(#lightb)" stroke="#555" stroke-width="1.0"/>
<line x1="327.2" y1="371.8" x2="327.2" y2="369.3" stroke="#111" stroke-width="1.4"/>
<line x1="322.9" y1="369.3" x2="331.5" y2="369.3" stroke="#111" stroke-width="1.8"/>
<text x="329.6" y="371.74" font-size="14.5" text-anchor="middle">*</text>
<line x1="388.5" y1="288" x2="388.5" y2="377.2" stroke="#555" stroke-width="0.9"/>
<line x1="388.5" y1="377.2" x2="518.5" y2="377.2" stroke="#555" stroke-width="0.9"/>
<line x1="386.9" y1="288" x2="388.5" y2="288" stroke="#555" stroke-width="0.8"/>
<text x="385.9" y="289.8" font-size="5.2" text-anchor="end" >40</text>
<line x1="386.9" y1="332.6" x2="388.5" y2="332.6" stroke="#555" stroke-width="0.8"/>
<text x="385.9" y="334.40000000000003" font-size="5.2" text-anchor="end" >20</text>
<line x1="386.9" y1="377.2" x2="388.5" y2="377.2" stroke="#555" stroke-width="0.8"/>
<text x="385.9" y="379.0" font-size="5.2" text-anchor="end" >0</text>
<line x1="431.2" y1="377.2" x2="431.2" y2="378.8" stroke="#555" stroke-width="0.8"/>
<line x1="475.1" y1="377.2" x2="475.1" y2="378.8" stroke="#555" stroke-width="0.8"/>
<line x1="518" y1="377.2" x2="518" y2="378.8" stroke="#555" stroke-width="0.8"/>
<rect x="392.80" y="374.60" width="33.90" height="2.60" fill="#000" stroke="none" stroke-width="0"/>
<line x1="409.8" y1="374.6" x2="409.8" y2="371.6" stroke="#111" stroke-width="1.4"/>
<line x1="405.5" y1="371.6" x2="414.1" y2="371.6" stroke="#111" stroke-width="1.8"/>
<rect x="436.70" y="362.00" width="33.30" height="14.70" fill="url(#hatchb)" stroke="#000" stroke-width="1"/>
<line x1="452.7" y1="361.5" x2="452.7" y2="356.7" stroke="#111" stroke-width="1.4"/>
<line x1="448.4" y1="356.7" x2="457.0" y2="356.7" stroke="#111" stroke-width="1.8"/>
<text x="455.6" y="359.64" font-size="14.5" text-anchor="middle">*</text>
<rect x="480.10" y="344.40" width="33.20" height="32.30" fill="url(#lightb)" stroke="#555" stroke-width="1.0"/>
<line x1="495.7" y1="343.9" x2="495.7" y2="340.6" stroke="#111" stroke-width="1.4"/>
<line x1="491.4" y1="340.6" x2="500.0" y2="340.6" stroke="#111" stroke-width="1.8"/>
<text x="498.1" y="343.94" font-size="14.5" text-anchor="middle">*</text>
<text transform="translate(20.8,331.9) rotate(-90)" font-size="9.0" text-anchor="middle">IFN-&#947;-producing CD4<tspan font-size="5.8" baseline-shift="3.2">+</tspan></text>
<text transform="translate(30.8,332.4) rotate(-90)" font-size="9.1" text-anchor="middle">cells (x10<tspan font-size="5.8" baseline-shift="3.2">5</tspan>)</text>
<text transform="translate(189.2,337.0) rotate(-90)" font-size="9.0" text-anchor="middle">IL-4-producing CD4<tspan font-size="5.8" baseline-shift="3.2">+</tspan></text>
<text transform="translate(200.4,337.3) rotate(-90)" font-size="9.2" text-anchor="middle">cells (x10<tspan font-size="5.8" baseline-shift="3.2">5</tspan>)</text>
<text transform="translate(365.0,339) rotate(-90)" font-size="9.0" text-anchor="middle">IL-10-producing CD4<tspan font-size="5.8" baseline-shift="3.2">+</tspan></text>
<text transform="translate(376.8,338) rotate(-90)" font-size="9.2" text-anchor="middle">cells (x10<tspan font-size="5.8" baseline-shift="3.2">5</tspan>)</text>
</svg></body></html>
